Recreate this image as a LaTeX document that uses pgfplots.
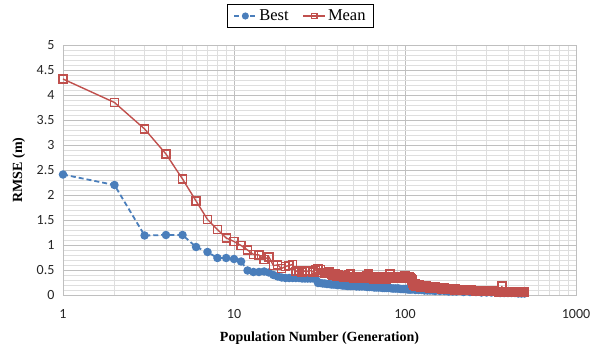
\documentclass[border=0pt]{standalone}
\usepackage{fontspec}
\setmainfont{Liberation Serif}
\newfontfamily\tickfont{Carlito}
\usepackage{pgfplots}
\pgfplotsset{compat=1.18}
\definecolor{bestblue}{HTML}{4A7EBB}
\definecolor{meanred}{HTML}{C0504D}
\begin{document}
\begin{tikzpicture}
\path[use as bounding box] (-63pt,-52pt) rectangle (537pt,295pt);
\begin{axis}[
  scale only axis, width=513pt, height=250pt,
  xmode=log, xmin=1, xmax=1000, ymin=0, ymax=5,
  xtick={1,10,100,1000}, xticklabels={1,10,100,1000},
  minor xtick={2,3,4,5,6,7,8,9,20,30,40,50,60,70,80,90,200,300,400,500,600,700,800,900},
  ytick={0,0.5,1,1.5,2,2.5,3,3.5,4,4.5,5},
  yticklabels={0,0.5,1,1.5,2,2.5,3,3.5,4,4.5,5},
  minor y tick num=4,
  grid=both,
  major grid style={draw=black!25, line width=0.9pt},
  minor grid style={draw=black!13, line width=0.9pt},
  axis line style={draw=black!25, line width=0.9pt},
  major tick length=0pt, minor tick length=0pt,
  tick label style={font=\tickfont\fontsize{14}{14}\selectfont, text=black!85},
  yticklabel style={xshift=-5pt},
  xticklabel style={yshift=-11pt},
  xlabel={Population Number (Generation)},
  ylabel={RMSE (m)},
  label style={font=\bfseries\fontsize{14}{14}\selectfont},
  xlabel style={at={(axis description cs:0.5,-0.172)}, anchor=center},
  ylabel style={at={(axis description cs:-0.086,0.5)}, anchor=center},
  legend columns=2,
  legend style={at={(axis description cs:0.463,1.165)}, anchor=north,
    draw=black, line width=1.2pt, font=\fontsize{16.5}{18}\selectfont,
    inner xsep=6pt, inner ysep=3.5pt,
    /tikz/every even column/.append style={column sep=12pt}},
  legend image code/.code={\draw[mark repeat=2,mark phase=2,#1, mark size=2.6pt] plot coordinates {(0pt,0pt) (11pt,0pt) (22pt,0pt)};},
]
\addplot[color=bestblue, line width=1.8pt, dash pattern=on 5pt off 3pt,
  mark=*, mark size=3.3pt, mark options={solid, fill=bestblue, draw=bestblue}]
coordinates {
(1,2.41)(2,2.20)(3,1.19)(4,1.20)(5,1.20)(6,0.96)(7,0.86)(8,0.74)(9,0.74)(10,0.72)
(11,0.67)(12,0.49)(13,0.46)(14,0.46)(15,0.47)(16,0.45)(17,0.40)(18,0.37)(19,0.35)(20,0.34)
(21,0.34)(22,0.34)(23,0.34)(24,0.34)(25,0.33)(26,0.33)(27,0.33)(28,0.33)(29,0.33)(30,0.33)
(31,0.24)(32,0.24)(33,0.23)(34,0.23)(35,0.22)(36,0.22)(37,0.21)(38,0.21)(39,0.21)(40,0.20)
(41,0.20)(42,0.20)(43,0.19)(44,0.19)(45,0.19)(46,0.18)(47,0.18)(48,0.18)(49,0.18)(50,0.18)
(52,0.17)(54,0.17)(56,0.17)(58,0.17)(60,0.16)(62,0.16)(64,0.16)(66,0.15)(68,0.15)(70,0.15)
(72,0.15)(74,0.14)(76,0.14)(78,0.14)(80,0.14)(82,0.14)(84,0.13)(86,0.13)(88,0.13)(90,0.13)
(92,0.13)(94,0.12)(96,0.12)(98,0.12)(100,0.12)(102,0.12)(104,0.11)(106,0.11)(108,0.11)(110,0.11)
(115,0.10)(120,0.10)(125,0.10)(130,0.09)(135,0.09)(140,0.09)(145,0.09)(150,0.08)(160,0.08)(170,0.08)
(180,0.07)(190,0.07)(200,0.07)(220,0.06)(240,0.06)(260,0.06)(280,0.05)(300,0.05)(320,0.05)(340,0.05)
(360,0.04)(380,0.04)(400,0.04)(420,0.04)(440,0.04)(460,0.03)(480,0.03)(500,0.03)
};
\addlegendentry{Best}
\addplot[color=meanred, line width=1.4pt, mark=square, mark size=4pt, mark options={solid, draw=meanred, line width=1.3pt}]
coordinates {
(1,4.32)(2,3.85)(3,3.32)(4,2.82)(5,2.32)(6,1.88)(7,1.51)(8,1.31)(9,1.14)(10,1.07)
(11,0.99)(12,0.90)(13,0.81)(14,0.80)(15,0.71)(16,0.76)(17,0.59)(18,0.60)(19,0.53)(20,0.57)
(21,0.59)(22,0.61)(23,0.47)(24,0.49)(25,0.46)(26,0.48)(27,0.47)(28,0.49)(29,0.46)(30,0.50)
(31,0.53)(32,0.51)(33,0.45)(34,0.43)(35,0.44)(36,0.47)(37,0.42)(38,0.40)(39,0.43)(40,0.38)
(41,0.40)(42,0.37)(43,0.39)(44,0.36)(45,0.38)(46,0.35)(47,0.41)(48,0.43)(49,0.36)(50,0.34)
(51,0.37)(52,0.35)(53,0.33)(54,0.36)(55,0.34)(56,0.37)(57,0.33)(58,0.35)(59,0.34)(60,0.38)
(61,0.42)(62,0.35)(63,0.33)(64,0.36)(65,0.34)(66,0.32)(67,0.35)(68,0.37)(69,0.33)(70,0.34)
(71,0.36)(72,0.32)(73,0.34)(74,0.35)(75,0.33)(76,0.36)(77,0.34)(78,0.32)(79,0.35)(80,0.37)
(81,0.42)(82,0.43)(83,0.36)(84,0.34)(85,0.33)(86,0.35)(87,0.36)(88,0.33)(89,0.34)(90,0.36)
(91,0.35)(92,0.33)(93,0.37)(94,0.35)(95,0.34)(96,0.36)(97,0.35)(98,0.37)(99,0.36)(100,0.38)
(101,0.36)(102,0.37)(103,0.35)(104,0.36)(105,0.37)(106,0.36)(107,0.35)(108,0.34)(109,0.33)(110,0.30)
(111,0.24)(112,0.20)(113,0.23)(114,0.19)(115,0.22)(116,0.18)(117,0.21)(118,0.17)(119,0.20)(120,0.18)
(122,0.20)(124,0.16)(126,0.19)(128,0.17)(130,0.18)(132,0.15)(134,0.18)(136,0.16)(138,0.17)(140,0.14)
(142,0.17)(144,0.15)(146,0.16)(148,0.14)(150,0.16)(152,0.13)(154,0.15)(156,0.14)(158,0.15)(160,0.13)
(162,0.14)(164,0.12)(166,0.14)(168,0.13)(170,0.14)(172,0.12)(174,0.13)(176,0.12)(178,0.13)(180,0.11)
(182,0.13)(184,0.12)(186,0.12)(188,0.11)(190,0.12)(192,0.11)(194,0.12)(196,0.10)(198,0.12)(200,0.11)
(205,0.11)(210,0.10)(215,0.11)(220,0.10)(225,0.10)(230,0.09)(235,0.10)(240,0.09)(245,0.10)(250,0.09)
(255,0.09)(260,0.08)(265,0.09)(270,0.08)(275,0.09)(280,0.08)(285,0.08)(290,0.09)(295,0.08)(300,0.08)
(305,0.07)(310,0.08)(315,0.07)(320,0.08)(325,0.07)(330,0.07)(335,0.08)(340,0.07)(345,0.07)(350,0.07)
(355,0.06)(360,0.07)(365,0.07)(369,0.18)(370,0.07)(375,0.06)(380,0.07)(385,0.06)(390,0.06)(395,0.07)
(400,0.06)(405,0.06)(410,0.06)(415,0.05)(420,0.06)(425,0.06)(430,0.05)(435,0.06)(440,0.05)(445,0.06)
(450,0.05)(455,0.06)(460,0.05)(465,0.05)(470,0.06)(475,0.05)(480,0.05)(485,0.06)(490,0.05)(495,0.05)
(500,0.06)
};
\addlegendentry{Mean}
\end{axis}
\end{tikzpicture}
\end{document}
